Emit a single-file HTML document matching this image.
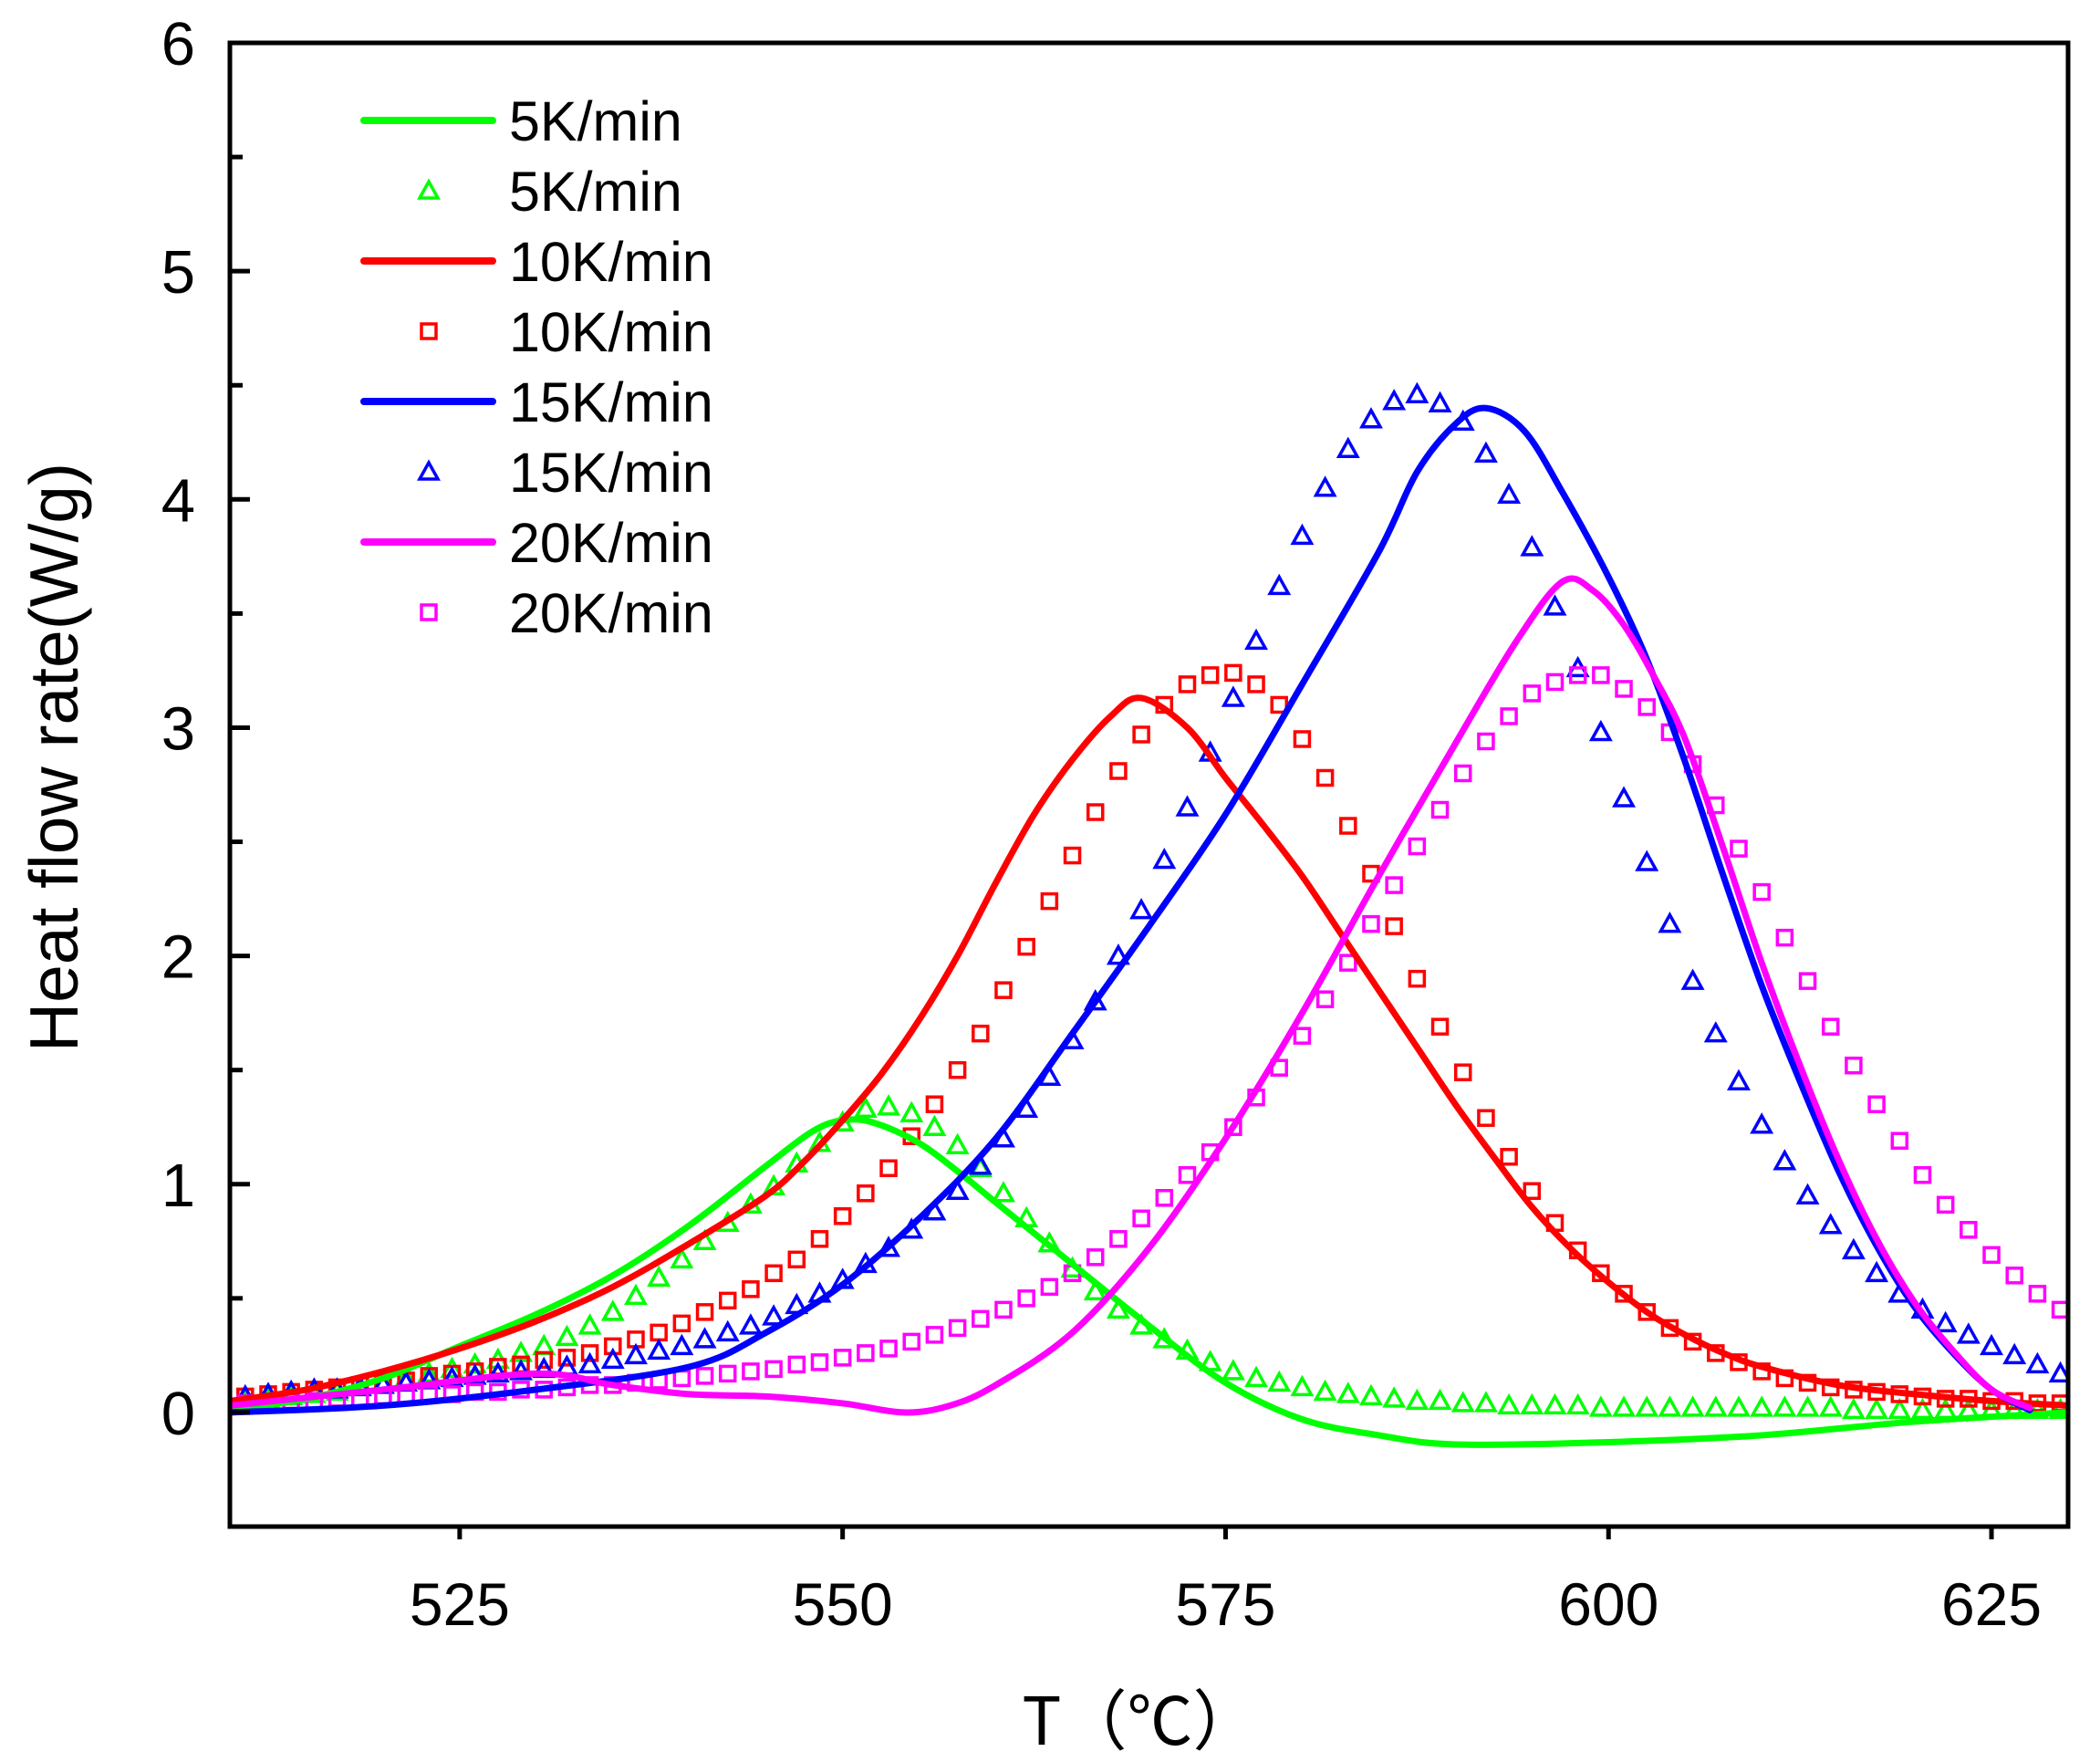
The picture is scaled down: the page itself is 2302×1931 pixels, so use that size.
<!DOCTYPE html>
<html><head><meta charset="utf-8"><style>
html,body{margin:0;padding:0;background:#fff;}
svg{display:block;font-family:"Liberation Sans","Noto Sans CJK SC",sans-serif;}
</style></head><body>
<svg id="chart" width="2302" height="1931" viewBox="0 0 2302 1931" xmlns="http://www.w3.org/2000/svg">
<g id="plot"></g>
<g id="axes"></g>
<g id="legend"></g>
</svg>
<script>
const xTicks = [525, 550, 575, 600, 625];
const yTicks = [0, 1, 2, 3, 4, 5, 6];
const yMinorTicks = [0.5, 1.5, 2.5, 3.5, 4.5, 5.5];

const lineT5 = [510,515,520,525,530,535,540,545,548,550,552,555,558,560,565,570,575,580,585,590,600,610,620,630];
const lineV5 = [0.01,0.06,0.15,0.29,0.43,0.6,0.82,1.08,1.23,1.28,1.27,1.18,1.03,0.92,0.65,0.38,0.13,-0.03,-0.1,-0.14,-0.13,-0.1,-0.04,0.0];
const lineT10 = [510,515,520,525,530,535,540,545,547.5,550,552.5,555,557.5,560,562.5,565,567.5,569.5,572.5,575,577.5,580,582.5,585,587.5,590,592.5,595,597.5,600,602.5,605,607.5,610,615,620,625,630];
const lineV10 = [0.05,0.1,0.18,0.28,0.4,0.55,0.74,0.95,1.1,1.28,1.48,1.72,2.0,2.32,2.62,2.86,3.05,3.13,3.0,2.78,2.57,2.35,2.1,1.85,1.6,1.35,1.12,0.9,0.72,0.57,0.44,0.34,0.26,0.2,0.12,0.08,0.05,0.03];
const lineT15 = [510,520,530,540,545,550,555,560,565,570,575,580,585,587.5,590,592,594.5,597,600,602.5,605,607.5,610,612.5,615,617.5,620,622.5,625,627.5];
const lineV15 = [0.0,0.03,0.1,0.2,0.35,0.56,0.85,1.2,1.66,2.13,2.62,3.19,3.77,4.12,4.33,4.4,4.3,4.03,3.66,3.3,2.85,2.35,1.87,1.45,1.06,0.73,0.46,0.26,0.1,0.01];
const lineT20 = [510,520,530,535,540,545,550,554,557,560,565,570,575,580,585,590,594,597,599,601,603,605,607.5,610,612.5,615,617.5,620,622.5,625,627.5];
const lineV20 = [0.03,0.1,0.17,0.12,0.08,0.07,0.04,0.0,0.03,0.12,0.35,0.72,1.2,1.75,2.35,2.93,3.38,3.64,3.6,3.45,3.22,2.95,2.47,1.97,1.52,1.11,0.76,0.48,0.27,0.1,0.02];

const markerT = [511,512.5,514,515.5,517,518.5,520,521.5,523,524.5,526,527.5,529,530.5,532,533.5,535,536.5,538,539.5,541,542.5,544,545.5,547,548.5,550,551.5,553,554.5,556,557.5,559,560.5,562,563.5,565,566.5,568,569.5,571,572.5,574,575.5,577,578.5,580,581.5,583,584.5,586,587.5,589,590.5,592,593.5,595,596.5,598,599.5,601,602.5,604,605.5,607,608.5,610,611.5,613,614.5,616,617.5,619,620.5,622,623.5,625,626.5,628,629.5];
const exp5 = [0.05,0.06,0.07,0.08,0.09,0.11,0.13,0.15,0.17,0.19,0.21,0.23,0.26,0.29,0.33,0.38,0.44,0.51,0.59,0.67,0.75,0.83,0.91,0.99,1.09,1.18,1.27,1.33,1.34,1.31,1.25,1.17,1.07,0.96,0.85,0.74,0.63,0.53,0.45,0.38,0.32,0.27,0.22,0.18,0.15,0.13,0.11,0.09,0.08,0.07,0.06,0.05,0.05,0.04,0.04,0.03,0.03,0.03,0.03,0.02,0.02,0.02,0.02,0.02,0.02,0.02,0.02,0.02,0.02,0.02,0.01,0.01,0.01,0.01,0.01,0.01,0.01,0.01,0.01,0.01];
const exp10 = [0.07,0.08,0.09,0.1,0.11,0.12,0.13,0.14,0.16,0.17,0.18,0.2,0.21,0.23,0.24,0.26,0.29,0.32,0.35,0.39,0.44,0.49,0.54,0.61,0.67,0.76,0.86,0.96,1.07,1.21,1.35,1.5,1.66,1.85,2.04,2.24,2.44,2.63,2.81,2.97,3.1,3.19,3.23,3.24,3.19,3.1,2.95,2.78,2.57,2.36,2.13,1.9,1.69,1.49,1.29,1.12,0.97,0.83,0.71,0.61,0.52,0.44,0.37,0.31,0.26,0.22,0.18,0.15,0.13,0.11,0.1,0.09,0.08,0.07,0.06,0.06,0.05,0.05,0.04,0.04];
const exp15 = [0.07,0.08,0.09,0.1,0.1,0.11,0.12,0.13,0.14,0.15,0.16,0.17,0.18,0.19,0.2,0.21,0.23,0.25,0.27,0.29,0.32,0.35,0.38,0.42,0.47,0.52,0.58,0.65,0.72,0.8,0.88,0.97,1.08,1.2,1.33,1.47,1.63,1.8,2.0,2.2,2.42,2.65,2.89,3.13,3.38,3.62,3.84,4.05,4.22,4.35,4.43,4.46,4.42,4.34,4.2,4.02,3.79,3.53,3.26,2.98,2.69,2.41,2.14,1.89,1.66,1.45,1.26,1.1,0.95,0.82,0.71,0.61,0.52,0.45,0.39,0.34,0.29,0.25,0.21,0.17];
const exp20 = [0.04,0.04,0.05,0.05,0.06,0.06,0.07,0.07,0.08,0.08,0.09,0.09,0.1,0.1,0.11,0.12,0.12,0.13,0.14,0.15,0.16,0.17,0.18,0.19,0.21,0.22,0.24,0.26,0.28,0.31,0.34,0.37,0.41,0.45,0.5,0.55,0.61,0.68,0.76,0.85,0.94,1.04,1.14,1.25,1.38,1.51,1.65,1.81,1.97,2.14,2.31,2.48,2.64,2.8,2.94,3.05,3.15,3.2,3.23,3.23,3.17,3.09,2.98,2.84,2.66,2.47,2.28,2.08,1.89,1.69,1.52,1.35,1.19,1.04,0.91,0.8,0.69,0.6,0.52,0.45];

const legendLabels = ["5K/min","5K/min","10K/min","10K/min","15K/min","15K/min","20K/min","20K/min"];

const L=252, R=2267, T=47, B=1673;
const X0=510, X1=630, Y0=-0.5, Y1=6;
const sx = v => L + (v - X0) / (X1 - X0) * (R - L);
const sy = v => B - (v - Y0) / (Y1 - Y0) * (B - T);
const NS = "http://www.w3.org/2000/svg";
function mk(tag, attrs, parent){ const e=document.createElementNS(NS,tag); for(const k in attrs) e.setAttribute(k,attrs[k]); parent.appendChild(e); return e; }

const plot=document.getElementById('plot'), axes=document.getElementById('axes'), legend=document.getElementById('legend');
const defs=mk('defs',{},document.getElementById('chart'));
const cp=mk('clipPath',{id:'clip'},defs); mk('rect',{x:L,y:T,width:R-L,height:B-T},cp);
plot.setAttribute('clip-path','url(#clip)');

function smoothPath(ts, vs){
  const p=ts.map((t,i)=>[sx(t),sy(vs[i])]);
  let d=`M${p[0][0]},${p[0][1]}`;
  for(let i=0;i<p.length-1;i++){
    const p0=p[i-1]||p[i], p1=p[i], p2=p[i+1], p3=p[i+2]||p2;
    const c1=[p1[0]+(p2[0]-p0[0])/6, p1[1]+(p2[1]-p0[1])/6];
    const c2=[p2[0]-(p3[0]-p1[0])/6, p2[1]-(p3[1]-p1[1])/6];
    d+=` C${c1[0]},${c1[1]} ${c2[0]},${c2[1]} ${p2[0]},${p2[1]}`;
  }
  return d;
}
function tri(g,cx,cy,color){
  return mk('polygon',{points:`${cx},${cy-10} ${cx-10},${cy+8} ${cx+10},${cy+8}`,fill:'none',stroke:color,'stroke-width':3.5},g);
}
function sq(g,cx,cy,color){
  return mk('rect',{x:cx-8,y:cy-8,width:16,height:16,fill:'none',stroke:color,'stroke-width':3.5},g);
}
const series=[
  {name:'5k',color:'#00ff00',lt:lineT5,lv:lineV5,ev:exp5,m:tri},
  {name:'10k',color:'#ff0000',lt:lineT10,lv:lineV10,ev:exp10,m:sq},
  {name:'15k',color:'#0000ff',lt:lineT15,lv:lineV15,ev:exp15,m:tri},
  {name:'20k',color:'#ff00ff',lt:lineT20,lv:lineV20,ev:exp20,m:sq}
];
series.forEach(s=>{
  const g=mk('g',{},plot);
  
  
  markerT.forEach((t,i)=>{ const e=s.m(g,sx(t),sy(s.ev[i]),s.color);
    
     });
});
series.forEach(s=>{
  const e=mk('path',{d:smoothPath(s.lt,s.lv),fill:'none',stroke:s.color,'stroke-width':7,'stroke-linejoin':'round','stroke-linecap':'round'},plot);
  
  
});

const fr=mk('rect',{x:L,y:T,width:R-L,height:B-T,fill:'none',stroke:'#000','stroke-width':5},axes);


xTicks.forEach(v=>{
  const t=mk('line',{x1:sx(v),x2:sx(v),y1:B,y2:B+14,stroke:'#000','stroke-width':5},axes);
  
  
  const l=mk('text',{x:sx(v),y:B+108,'font-size':66,'text-anchor':'middle',fill:'#000'},axes);
  l.textContent=v;
  
  
});
yTicks.forEach(v=>{
  const t=mk('line',{x1:L,x2:L+22,y1:sy(v),y2:sy(v),stroke:'#000','stroke-width':5},axes);
  
  
  const l=mk('text',{x:214,y:sy(v)+24,'font-size':67,'text-anchor':'end',fill:'#000'},axes);
  l.textContent=v;
  
  
});
yMinorTicks.forEach(v=>{
  const t=mk('line',{x1:L,x2:L+14,y1:sy(v),y2:sy(v),stroke:'#000','stroke-width':5},axes);
  
  
});
const yt=mk('text',{x:0,y:0,'font-size':75,'text-anchor':'middle',fill:'#000',transform:'translate(85,830) rotate(-90)'},axes);
yt.textContent='Heat flow rate(W/g)';


const xt=mk('text',{x:1250,y:1912,'font-size':72,'text-anchor':'middle',fill:'#000','font-family':'"Noto Sans CJK SC","Liberation Sans",sans-serif'},axes);
xt.textContent='T（℃）';



const rowY0=132, rowH=77;
legendLabels.forEach((lab,i)=>{
  const s=series[Math.floor(i/2)], y=rowY0+i*rowH;
  const g=mk('g',{},legend);
  
  
  if(i%2===0){ mk('line',{x1:399,x2:540,y1:y,y2:y,stroke:s.color,'stroke-width':8,'stroke-linecap':'round'},g); }
  else { s.m(g,470,y,s.color); }
  const t=mk('text',{x:558,y:y+22,'font-size':61,fill:'#000'},g);
  t.textContent=lab;
});
</script>
</body></html>
